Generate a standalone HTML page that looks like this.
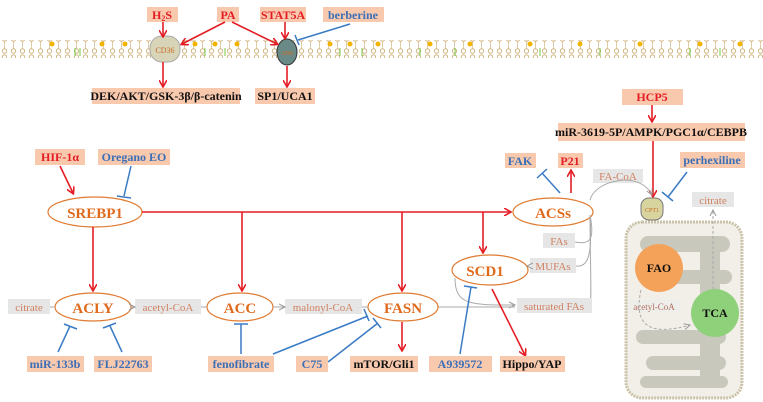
<!DOCTYPE html>
<html><head><meta charset="utf-8"><style>
html,body{margin:0;padding:0;background:#fff;}
svg{display:block;font-family:"Liberation Serif",serif;}
.box{fill:#f9c9ae;}
.gbox{fill:#e6e6e6;}
.rt{fill:#e41d25;font-weight:bold;font-size:12px;text-anchor:middle;}
.bt{fill:#3b6fb6;font-weight:bold;font-size:12px;text-anchor:middle;}
.kt{fill:#111;font-weight:bold;font-size:12px;text-anchor:middle;}
.gt{fill:#d08060;font-size:11px;text-anchor:middle;}
.et{fill:#e06a1c;font-weight:bold;font-size:15px;text-anchor:middle;}
.ell{fill:#fff;stroke:#e07a30;stroke-width:1.2;}
.red{stroke:#e41d25;stroke-width:1.6;fill:none;}
.blue{stroke:#3b7bc4;stroke-width:1.5;fill:none;}
.gl{stroke:#aaa;stroke-width:1;fill:none;}
</style></head><body>
<svg width="763" height="402" viewBox="0 0 763 402">
<defs>
<marker id="ar" markerWidth="8" markerHeight="8" refX="6" refY="4" orient="auto" markerUnits="userSpaceOnUse"><path d="M0,0 L7,4 L0,8" fill="none" stroke="#e41d25" stroke-width="1.6"/></marker>
<marker id="ga" markerWidth="8" markerHeight="8" refX="6" refY="4" orient="auto" markerUnits="userSpaceOnUse"><path d="M0,1 L6,4 L0,7" fill="none" stroke="#999" stroke-width="1"/></marker>
<pattern id="mem" width="9" height="18" patternUnits="userSpaceOnUse"><circle cx="4.5" cy="3" r="2.2" fill="none" stroke="#c9a86a" stroke-width="0.8"/><line x1="4.5" y1="5" x2="4.5" y2="13" stroke="#c9a86a" stroke-width="0.6"/><circle cx="4.5" cy="15" r="2.2" fill="none" stroke="#c9a86a" stroke-width="0.8"/></pattern>
</defs>
<rect x="0" y="40" width="763" height="18" fill="url(#mem)"/>
<g fill="#f2b400">
<circle cx="52" cy="44" r="2.5"/><circle cx="102" cy="44" r="2.5"/><circle cx="125" cy="44" r="2.5"/><circle cx="195" cy="44" r="2.5"/><circle cx="215" cy="44" r="2.5"/><circle cx="237" cy="44" r="2.5"/><circle cx="330" cy="44" r="2.5"/><circle cx="350" cy="44" r="2.5"/><circle cx="378" cy="44" r="2.5"/><circle cx="430" cy="44" r="2.5"/><circle cx="470" cy="44" r="2.5"/><circle cx="530" cy="44" r="2.5"/><circle cx="580" cy="44" r="2.5"/><circle cx="640" cy="44" r="2.5"/><circle cx="700" cy="44" r="2.5"/><circle cx="740" cy="44" r="2.5"/>
</g>
<g stroke="#7ac943" stroke-width="1" fill="none">
<path d="M75,48 v8"/><path d="M80,48 v8"/><path d="M205,48 v8"/><path d="M225,48 v8"/><path d="M340,48 v8"/><path d="M362,48 v8"/><path d="M420,48 v8"/><path d="M455,48 v8"/><path d="M540,48 v8"/><path d="M600,48 v8"/><path d="M690,48 v8"/><path d="M720,48 v8"/>
</g>
<rect x="150" y="36" width="30" height="26" rx="12" fill="#d8d4b8" stroke="#aaa"/>
<text x="165" y="53" style="font-size:8px;fill:#c86a20;text-anchor:middle">CD36</text>
<ellipse cx="287" cy="52" rx="10" ry="13" fill="#6a8a88" stroke="#333"/>
<text x="287" y="55" style="font-size:6px;fill:#c86a20;text-anchor:middle">ABB</text>
<rect class="box" x="147" y="7" width="31" height="15"/><text class="rt" x="162" y="19">H<tspan font-size="8" dy="2">2</tspan><tspan dy="-2">S</tspan></text>
<rect class="box" x="217" y="7" width="22" height="15"/><text class="rt" x="228" y="19">PA</text>
<rect class="box" x="260" y="7" width="46" height="15"/><text class="rt" x="283" y="19">STAT5A</text>
<rect class="box" x="323" y="7" width="61" height="15"/><text class="bt" x="353" y="19">berberine</text>
<line class="red" x1="163" y1="22" x2="163" y2="36" marker-end="url(#ar)"/>
<line class="red" x1="225" y1="22" x2="182" y2="44" marker-end="url(#ar)"/>
<line class="red" x1="232" y1="22" x2="277" y2="44" marker-end="url(#ar)"/>
<line class="red" x1="285" y1="22" x2="285" y2="38" marker-end="url(#ar)"/>
<line class="blue" x1="350" y1="24" x2="298" y2="40"/><line class="blue" x1="295" y1="35" x2="299" y2="45"/>
<line class="red" x1="163" y1="62" x2="163" y2="86" marker-end="url(#ar)"/>
<line class="red" x1="287" y1="66" x2="287" y2="86" marker-end="url(#ar)"/>
<rect class="box" x="92" y="88" width="148" height="16"/><text class="kt" x="166" y="100">DEK/AKT/GSK-3β/β-catenin</text>
<rect class="box" x="255" y="88" width="60" height="16"/><text class="kt" x="285" y="100">SP1/UCA1</text>
<rect class="box" x="622" y="89" width="61" height="16"/><text class="rt" x="652" y="101">HCP5</text>
<line class="red" x1="652" y1="105" x2="652" y2="121" marker-end="url(#ar)"/>
<rect class="box" x="558" y="123" width="187" height="18"/><text class="kt" x="651" y="136">miR-3619-5P/AMPK/PGC1α/CEBPB</text>
<line class="red" x1="653" y1="141" x2="653" y2="196" marker-end="url(#ar)"/>
<rect class="box" x="35" y="149" width="50" height="16"/><text class="rt" x="60" y="161">HIF-1α</text>
<rect class="box" x="98" y="149" width="72" height="16"/><text class="bt" x="134" y="161">Oregano EO</text>
<line class="red" x1="60" y1="166" x2="73" y2="193" marker-end="url(#ar)"/>
<line class="blue" x1="131" y1="166" x2="124" y2="196"/><line class="blue" x1="117" y1="196" x2="131" y2="198"/>
<ellipse class="ell" cx="95" cy="212" rx="47" ry="15"/><text class="et" x="95" y="218">SREBP1</text>
<line class="red" x1="142" y1="212" x2="510" y2="212" marker-end="url(#ar)"/>
<line class="red" x1="93" y1="227" x2="93" y2="290" marker-end="url(#ar)"/>
<line class="red" x1="242" y1="212" x2="242" y2="290" marker-end="url(#ar)"/>
<line class="red" x1="402" y1="212" x2="402" y2="290" marker-end="url(#ar)"/>
<line class="red" x1="483" y1="212" x2="483" y2="252" marker-end="url(#ar)"/>
<rect class="box" x="505" y="153" width="31" height="15"/><text class="bt" x="520" y="165">FAK</text>
<rect class="box" x="558" y="153" width="25" height="15"/><text class="rt" x="570" y="165">P21</text>
<line class="blue" x1="560" y1="193" x2="542" y2="173"/><line class="blue" x1="537" y1="178" x2="547" y2="169"/>
<line class="red" x1="571" y1="193" x2="571" y2="171" marker-end="url(#ar)"/>
<ellipse class="ell" cx="553" cy="212" rx="40" ry="14"/><text class="et" x="553" y="218">ACSs</text>
<rect class="gbox" x="593" y="169" width="50" height="14"/><text class="gt" x="618" y="180">FA-CoA</text>
<path class="gl" d="M590,200 C595,180 640,170 652,195" marker-end="url(#ga)"/>
<path class="gl" d="M590,215 C595,240 590,245 575,242"/>
<path class="gl" d="M590,215 C592,250 590,268 576,266"/>
<path class="gl" d="M590,215 C590,260 592,300 590,305"/>
<rect class="gbox" x="543" y="233" width="32" height="15"/><text class="gt" x="559" y="245">FAs</text>
<rect class="gbox" x="530" y="258" width="46" height="15"/><text class="gt" x="553" y="270">MUFAs</text>
<rect class="gbox" x="517" y="298" width="75" height="15"/><text class="gt" x="554" y="310">saturated FAs</text>
<rect class="box" x="680" y="152" width="65" height="16"/><text class="bt" x="712" y="164">perhexiline</text>
<line class="blue" x1="687" y1="172" x2="668" y2="197"/><line class="blue" x1="662" y1="192" x2="673" y2="201"/>
<rect class="gbox" x="692" y="192" width="42" height="15"/><text class="gt" x="713" y="204">citrate</text>
<rect x="626" y="222" width="116" height="176" rx="16" fill="#f1efe7" stroke="#c9c2a8" stroke-width="3" stroke-dasharray="2 1"/>
<g fill="#c8c8bc">
<rect x="640" y="236" width="90" height="16" rx="8"/><rect x="650" y="270" width="82" height="14" rx="7"/><rect x="636" y="330" width="90" height="14" rx="7"/><rect x="646" y="356" width="80" height="14" rx="7"/><rect x="640" y="376" width="88" height="12" rx="6"/><rect x="700" y="236" width="20" height="150" rx="8"/>
</g>
<rect x="641" y="198" width="22" height="22" rx="8" fill="#d8d4a0" stroke="#777"/>
<text x="652" y="212" style="font-size:6px;fill:#c86a20;text-anchor:middle">CPT1</text>
<circle cx="659" cy="268" r="24" fill="#f4a25a"/><text x="659" y="272" style="font-size:12px;font-weight:bold;text-anchor:middle;fill:#111">FAO</text>
<circle cx="715" cy="313" r="24" fill="#8fd07a"/><text x="715" y="317" style="font-size:12px;font-weight:bold;text-anchor:middle;fill:#111">TCA</text>
<rect x="628" y="300" width="52" height="13" fill="#eeeeea"/>
<text x="654" y="310" style="font-size:9px;fill:#b07060;text-anchor:middle">acetyl-CoA</text>
<path class="gl" d="M641,290 C632,330 655,335 690,325" stroke-dasharray="3 2" marker-end="url(#ga)"/>
<line class="gl" x1="713" y1="289" x2="713" y2="210" stroke-dasharray="3 2" marker-end="url(#ga)"/>
<ellipse class="ell" cx="490" cy="270" rx="38" ry="15"/><text class="et" x="485" y="276">SCD1</text>
<line class="gl" x1="528" y1="266" x2="527" y2="266" marker-end="url(#ga)"/>
<path class="gl" d="M455,278 C455,305 470,305 515,305" marker-end="url(#ga)"/>
<line class="gl" x1="438" y1="307" x2="515" y2="307"/>
<line class="red" x1="492" y1="289" x2="525" y2="355" marker-end="url(#ar)"/>
<rect class="gbox" x="8" y="299" width="42" height="15"/><text class="gt" x="29" y="311">citrate</text>
<ellipse class="ell" cx="93" cy="307" rx="38" ry="14"/><text class="et" x="93" y="313">ACLY</text>
<rect class="gbox" x="135" y="299" width="66" height="15"/><text class="gt" x="168" y="311">acetyl-CoA</text>
<ellipse class="ell" cx="240" cy="307" rx="33" ry="14"/><text class="et" x="240" y="313">ACC</text>
<rect class="gbox" x="285" y="299" width="77" height="15"/><text class="gt" x="323" y="311">malonyl-CoA</text>
<ellipse class="ell" cx="403" cy="307" rx="35" ry="14"/><text class="et" x="403" y="313">FASN</text>
<line class="gl" x1="50" y1="307" x2="55" y2="307"/><line class="gl" x1="131" y1="307" x2="135" y2="307" marker-end="url(#ga)"/>
<line class="gl" x1="201" y1="307" x2="207" y2="307"/><line class="gl" x1="273" y1="307" x2="285" y2="307" marker-end="url(#ga)"/>
<line class="gl" x1="362" y1="307" x2="368" y2="307"/>
<line class="blue" x1="58" y1="352" x2="70" y2="326"/><line class="blue" x1="64" y1="324" x2="77" y2="329"/>
<line class="blue" x1="122" y1="352" x2="110" y2="326"/><line class="blue" x1="103" y1="328" x2="116" y2="323"/>
<line class="blue" x1="241" y1="354" x2="241" y2="324"/><line class="blue" x1="234" y1="324" x2="248" y2="324"/>
<line class="blue" x1="273" y1="354" x2="368" y2="316"/><line class="blue" x1="364" y1="309" x2="369" y2="321"/>
<line class="blue" x1="328" y1="362" x2="378" y2="323"/><line class="blue" x1="373" y1="318" x2="381" y2="328"/>
<line class="blue" x1="460" y1="354" x2="471" y2="287"/><line class="blue" x1="464" y1="286" x2="477" y2="288"/>
<line class="red" x1="402" y1="322" x2="402" y2="350" marker-end="url(#ar)"/>
<rect class="box" x="27" y="356" width="57" height="16"/><text class="bt" x="55" y="368">miR-133b</text>
<rect class="box" x="94" y="356" width="58" height="16"/><text class="bt" x="123" y="368">FLJ22763</text>
<rect class="box" x="208" y="356" width="66" height="16"/><text class="bt" x="241" y="368">fenofibrate</text>
<rect class="box" x="296" y="356" width="32" height="16"/><text class="bt" x="312" y="368">C75</text>
<rect class="box" x="350" y="356" width="68" height="16"/><text class="kt" x="384" y="368">mTOR/Gli1</text>
<rect class="box" x="429" y="356" width="63" height="16"/><text class="bt" x="460" y="368">A939572</text>
<rect class="box" x="500" y="356" width="65" height="16"/><text class="kt" x="532" y="368">Hippo/YAP</text>
</svg>
</body></html>
